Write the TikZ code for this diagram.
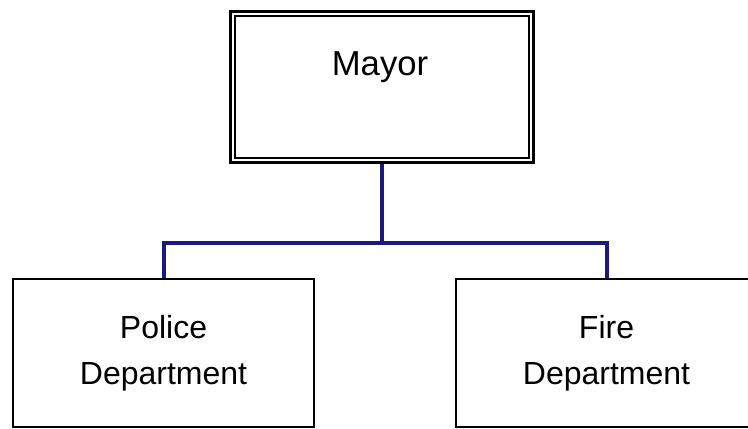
\documentclass[tikz,border=0pt]{standalone}
\usepackage{fontspec}
\setmainfont{Liberation Sans}
\definecolor{orgblue}{RGB}{26,26,125}
\tikzset{
  headbox/.style={draw, line width=2.6pt, minimum width=227pt, minimum height=113pt, inner sep=0pt},
  deptbox/.style={draw, line width=1.4pt, minimum width=226pt, minimum height=111pt,
    inner sep=0pt, align=center, font=\fontsize{24}{34.5}\selectfont},
  orgline/.style={draw=orgblue, line width=3pt}
}
\begin{document}
\begin{tikzpicture}[x=0.75pt, y=-0.75pt]
    \useasboundingbox (0,0) rectangle (748,428);
    \clip (0,0) rectangle (748,428);
    % top of the chart
    \node[headbox] (mayor) at (382,87) {};
    \draw[line width=0.9pt] ([shift={(4.5pt,-4.5pt)}]mayor.north west) rectangle ([shift={(-4.5pt,4.5pt)}]mayor.south east);
    \node[anchor=base, font=\fontsize{26}{30}\selectfont] (mayorname) at (380,75) {Mayor};
    % departments
    \node[deptbox] (police) at (163.5,353) {Police\\Department};
    \node[deptbox] (fire) at (606.5,353) {Fire\\Department};
    % connectors
    \coordinate (fork) at (382,243);
    \draw[orgline] (mayor.south) -- (fork);
    \draw[orgline] (police.north) |- (fork) -| (fire.north);
\end{tikzpicture}
\end{document}
